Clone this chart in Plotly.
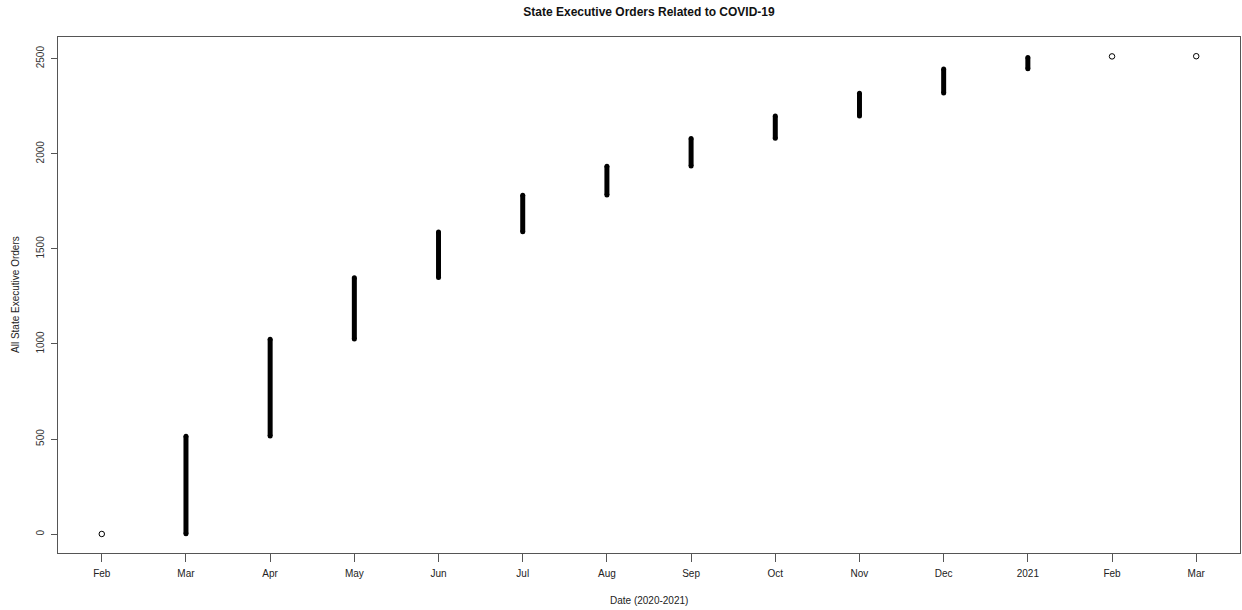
import plotly.graph_objects as go

# Data: month positions, labels and cumulative order index range per month
month_labels = ["Feb", "Mar", "Apr", "May", "Jun", "Jul", "Aug", "Sep",
                "Oct", "Nov", "Dec", "2021", "Feb", "Mar"]
month_pos = list(range(len(month_labels)))
range_start = [1, 2, 516, 1026, 1349, 1590, 1783, 1936, 2081, 2199, 2319, 2447, 2512, 2513]
range_end = [1, 515, 1025, 1348, 1589, 1782, 1935, 2080, 2198, 2318, 2446, 2506, 2512, 2513]

fig = go.Figure()

# vertical stacks (months with many orders)
lx, ly, mx, my = [], [], [], []
px, py = [], []
for x, s, e in zip(month_pos, range_start, range_end):
    if e - s >= 5:
        lx += [x, x, None]
        ly += [s, e, None]
        mx += [x, x]
        my += [s, e]
    else:
        px += [x]
        py += [s]

fig.add_trace(go.Scatter(x=lx, y=ly, mode="lines",
                         line=dict(color="black", width=5),
                         hoverinfo="skip", showlegend=False))
fig.add_trace(go.Scatter(x=mx, y=my, mode="markers",
                         marker=dict(symbol="circle", size=5, color="black",
                                     line=dict(width=0)),
                         hoverinfo="skip", showlegend=False))
fig.add_trace(go.Scatter(x=px, y=py, mode="markers",
                         marker=dict(symbol="circle-open", size=5.5,
                                     color="black", line=dict(width=1)),
                         showlegend=False))

font_fam = "Liberation Sans, Arial, sans-serif"
axis_color = "#555555"

fig.update_layout(
    width=1242, height=610,
    margin=dict(l=58, r=2, t=37, b=57),
    paper_bgcolor="white", plot_bgcolor="white",
    font=dict(family=font_fam, size=10, color="#222222"),
    title=dict(text="<b>State Executive Orders Related to COVID-19</b>",
               x=0.5, xref="paper", xanchor="center",
               y=1 - 12 / 610, yref="container", yanchor="middle",
               font=dict(size=12, color="#111111", family=font_fam)),
    showlegend=False,
    xaxis=dict(range=[-0.52, 13.52], tickmode="array", tickvals=month_pos,
               ticktext=month_labels, showgrid=False, zeroline=False,
               showline=True, mirror=True, linecolor=axis_color, linewidth=1,
               ticks="outside", ticklen=8, tickcolor=axis_color,
               ticklabelstandoff=3,
               tickfont=dict(size=10, color="#222222")),
    yaxis=dict(range=[-99, 2614], tickvals=[0, 500, 1000, 1500, 2000, 2500],
               showgrid=False, zeroline=False, showline=True, mirror=True,
               linecolor=axis_color, linewidth=1, ticks="outside", ticklen=6,
               tickcolor=axis_color, tickangle=-90, ticklabelstandoff=3,
               tickfont=dict(size=10, color="#333333")),
    annotations=[
        dict(text="Date (2020-2021)", xref="paper", yref="paper",
             x=0.5, y=-(600 - 553) / 516, xanchor="center", yanchor="middle",
             showarrow=False, font=dict(size=10, color="#222222")),
        dict(text="All State Executive Orders", xref="paper", yref="paper",
             x=-(58 - 15) / 1182, y=0.5, xanchor="center", yanchor="middle",
             textangle=-90, showarrow=False,
             font=dict(size=10, color="#222222")),
    ],
)

fig.write_html("out.html")
